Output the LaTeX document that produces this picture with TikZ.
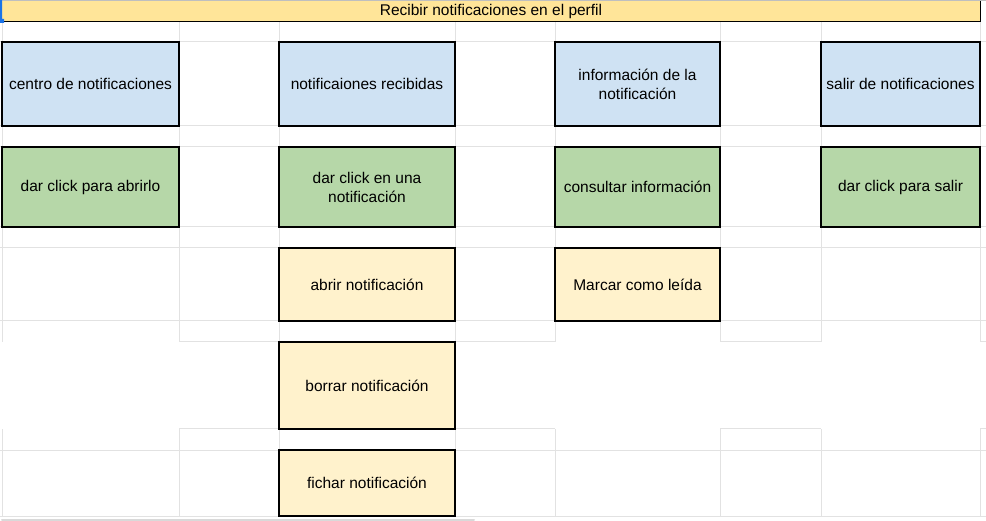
\documentclass[tikz,border=0pt]{standalone}
\usepackage{fontspec}
\setmainfont{Liberation Sans}
\usepackage{xcolor}
\definecolor{celeste}{HTML}{CFE2F3}
\definecolor{verdeclaro}{HTML}{B6D7A8}
\definecolor{crema}{HTML}{FFF2CC}
\definecolor{encabezado}{HTML}{FFE599}
\definecolor{gris}{HTML}{E2E2E2}
\definecolor{cursor}{HTML}{1A73E8}

\begin{document}
\begin{tikzpicture}[x=1pt,y=-1pt,
    texto/.style={inner sep=0pt,align=center,font=\fontsize{15.5}{19}\selectfont},
    celda/.style={texto,draw=black,line width=1.1pt},
    azul/.style={celda,fill=celeste},
    verde/.style={celda,fill=verdeclaro},
    amarillo/.style={celda,fill=crema},
    rejilla/.style={draw=gris,line width=1pt}]
    \useasboundingbox (0,0) rectangle (986,521);
    \foreach \y in {42,126,147,227,248,321,450,516} \draw[rejilla] (0,\y) -- (986,\y);
    \foreach \x in {2,179,279,455,555,720,821,980} {
        \draw[rejilla] (\x,21) -- (\x,342);
        \draw[rejilla] (\x,429) -- (\x,516);}
    \foreach \a/\b in {179/279,455/555,720/821,980/986} {
        \draw[rejilla] (\a,342) -- (\b,342);
        \draw[rejilla] (\a,429) -- (\b,429);}
    \draw[gray!50,line width=1pt] (0,0.5) -- (986,0.5);
    \draw[gray!30,line width=2pt,line cap=round] (2,519.5) -- (474,519.5);
    \node[texto,fill=encabezado,minimum width=978,minimum height=20] (titulo) at (491,11) {Recibir notificaciones en el perfil};
    \draw[black,line width=1pt] (titulo.north east) -- (titulo.south east) -- (titulo.south west);
    \fill[cursor] (0,0) rectangle (2,21) (0,19) rectangle (4,23);
    \node[azul,minimum width=177,minimum height=84] (centro) at (90.5,84) {centro de notificaciones};
    \node[azul,minimum width=176,minimum height=84] (recibidas) at (367,84) {notificaiones recibidas};
    \node[azul,minimum width=165,minimum height=84] (info) at (637.5,84) {información de la\\notificación};
    \node[azul,minimum width=159,minimum height=84] (salir) at (900.5,84) {salir de notificaciones};
    \node[verde,minimum width=177,minimum height=80] (abrirlo) at (90.5,187) {dar click para abrirlo};
    \node[verde,minimum width=176,minimum height=80] (clicuna) at (367,187) {dar click en una\\notificación};
    \node[verde,minimum width=165,minimum height=80] (consultar) at (637.5,187) {consultar información};
    \node[verde,minimum width=159,minimum height=80] (clicsalir) at (900.5,187) {dar click para salir};
    \node[amarillo,minimum width=176,minimum height=73] (abrir) at (367,284.5) {abrir notificación};
    \node[amarillo,minimum width=165,minimum height=73] (leida) at (637.5,284.5) {Marcar como leída};
    \node[amarillo,minimum width=176,minimum height=87] (borrar) at (367,385.5) {borrar notificación};
    \node[amarillo,minimum width=176,minimum height=66] (fichar) at (367,483) {fichar notificación};
\end{tikzpicture}
\end{document}
